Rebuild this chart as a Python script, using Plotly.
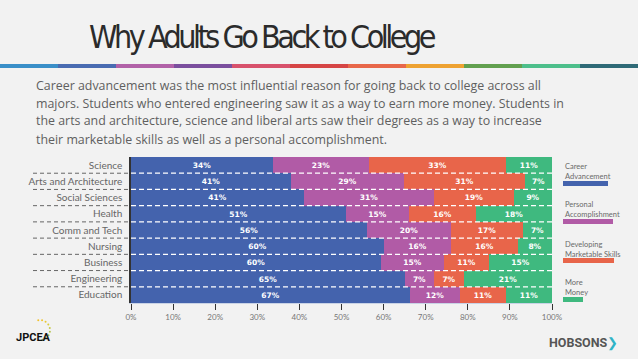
import math
import plotly.graph_objects as go

categories = ["Science", "Arts and Architecture", "Social Sciences", "Health", "Comm and Tech",
              "Nursing", "Business", "Engineering", "Education"]
career = [34, 41, 41, 51, 56, 60, 60, 65, 67]
personal = [23, 29, 31, 15, 20, 16, 15, 7, 12]
skills = [33, 31, 19, 16, 17, 16, 11, 7, 11]
money = [11, 7, 9, 18, 7, 8, 15, 21, 11]
series_names = ["Career Advancement", "Personal Accomplishment", "Developing Marketable Skills", "More Money"]
legend_lines = ["Career<br>Advancement", "Personal<br>Accomplishment", "Developing<br>Marketable Skills", "More<br>Money"]
colors = ["#4463ad", "#b15ba6", "#e8654a", "#3fb97f"]
tick_vals = [0, 10, 20, 30, 40, 50, 60, 70, 80, 90, 100]
tick_text = [f"{v}%" for v in tick_vals]
title_text = "Why Adults Go Back to College"
paragraph = [
    "Career advancement was the most influential reason for going back to college across all",
    "majors. Students who entered engineering saw it as a way to earn more money. Students in",
    "the arts and architecture, science and liberal arts saw their degrees as a way to increase",
    "their marketable skills as well as a personal accomplishment.",
]

W, H = 638, 359
L, R, T, B = 131, 86, 157, 56
PW, PH = W - L - R, H - T - B


def px(x):
    return (x - L) / PW


def py(y):
    return (H - B - y) / PH


fig = go.Figure()
for name, vals, col in zip(series_names, [career, personal, skills, money], colors):
    fig.add_trace(go.Bar(
        y=categories, x=vals, name=name, orientation="h",
        marker=dict(color=col, line=dict(width=0)),
        text=[f"<b>{v}%</b>" for v in vals], texttemplate="%{text}",
        textposition="inside", insidetextanchor="middle",
        textfont=dict(color="white", size=7.5, family="DejaVu Sans"),
        showlegend=False, hoverinfo="skip",
    ))

shapes = []
# colour stripe under the title
stripe = ["#3a8fc8", "#4a6cb2", "#b262a8", "#7b4f9e", "#d8526c", "#d64545",
          "#e8674a", "#eea232", "#62a04f", "#4dbf8b", "#2f6a77"]
sw = W / len(stripe)
for i, c in enumerate(stripe):
    shapes.append(dict(type="rect", xref="paper", yref="paper",
                       x0=px(i * sw), x1=px((i + 1) * sw), y0=py(68), y1=py(64),
                       fillcolor=c, line=dict(width=0), layer="above"))
# dashed separators between rows
for i in range(len(categories) - 1):
    yb = i + 0.5
    shapes.append(dict(type="line", xref="paper", yref="y", x0=px(33), x1=0, y0=yb, y1=yb,
                       line=dict(color="#666666", width=1, dash="4px,3px"), layer="above"))
    shapes.append(dict(type="line", xref="paper", yref="y", x0=0, x1=1, y0=yb, y1=yb,
                       line=dict(color="white", width=1.2, dash="5px,3px"), layer="above"))
# legend swatches
sw_pos = [(181, 608), (219, 613), (258, 614), (297, 583)]
for (yt, xr), c in zip(sw_pos, colors):
    shapes.append(dict(type="rect", xref="paper", yref="paper",
                       x0=px(563), x1=px(xr), y0=py(yt + 5), y1=py(yt),
                       fillcolor=c, line=dict(width=0)))
# JPCEA logo dotted arc
arc_cols = ["#f2c12e", "#f0c530", "#e9c935", "#d9cb3c", "#c6c944", "#b3c24c", "#a2ba52", "#94b257", "#8aa95b"]
for k, c in enumerate(arc_cols):
    a = math.radians(100 - k * 22)
    cx, cy = 40 + 10 * math.cos(a), 330 - 10 * math.sin(a)
    r = 1.0
    shapes.append(dict(type="circle", xref="paper", yref="paper",
                       x0=px(cx - r), x1=px(cx + r), y0=py(cy + r), y1=py(cy - r),
                       fillcolor=c, line=dict(width=0)))

annotations = [
    dict(text=f"<span style='letter-spacing:-3.5px'>{title_text}</span>", x=px(262), y=py(37),
         xref="paper", yref="paper", showarrow=False, xanchor="center", yanchor="middle",
         font=dict(family="DejaVu Sans Condensed, Liberation Sans Narrow, sans-serif",
                   size=32, color="#2b2b2b")),
    dict(text="<b>JPCEA</b>", x=px(14), y=py(337), xref="paper", yref="paper", showarrow=False,
         xanchor="left", yanchor="middle", font=dict(family="Roboto, sans-serif", size=11, color="#111111")),
    dict(text="<b>HOBSONS</b><span style='color:#2fb3c6'>❯</span>", x=px(620), y=py(343),
         xref="paper", yref="paper", showarrow=False, xanchor="right", yanchor="middle",
         font=dict(family="Roboto, sans-serif", size=12.5, color="#555555")),
]
for k, line in enumerate(paragraph):
    annotations.append(dict(text=line, x=px(34), y=py(85 + 18 * k), xref="paper", yref="paper",
                            showarrow=False, xanchor="left", yanchor="middle", align="left",
                            font=dict(family="Open Sans, sans-serif", size=12.4, color="#5f5f5f")))
leg_y = [171, 209, 249, 287]
for txt, yy in zip(legend_lines, leg_y):
    annotations.append(dict(text=txt, x=px(563), y=py(yy), xref="paper", yref="paper",
                            showarrow=False, xanchor="left", yanchor="middle", align="left",
                            font=dict(family="Lato, sans-serif", size=7.5, color="#6a6a6a")))

fig.update_layout(
    barmode="stack", barnorm="percent", bargap=0,
    width=W, height=H,
    margin=dict(l=L, r=R, t=T, b=B, pad=0),
    paper_bgcolor="#f2f2f2", plot_bgcolor="#f2f2f2",
    shapes=shapes, annotations=annotations,
    xaxis=dict(range=[0, 100], tickvals=tick_vals, ticktext=tick_text, showgrid=False,
               zeroline=False, ticks="outside", ticklen=6, tickcolor="#333333", tickwidth=1,
               showline=True, linecolor="#c9d3e6", linewidth=1, fixedrange=True,
               tickfont=dict(family="Lato, sans-serif", size=8, color="#777777")),
    yaxis=dict(autorange="reversed", showgrid=False, zeroline=False, showline=True,
               linecolor="#333333", linewidth=1.5, ticks="", ticklabelstandoff=5, fixedrange=True,
               tickfont=dict(family="Lato, sans-serif", size=10, color="#666666")),
    font=dict(family="Lato, sans-serif"),
    hovermode=False,
)

fig.write_html("out.html", config={"displayModeBar": False},
               post_script="document.body.style.margin='0';document.body.style.background='#f2f2f2';")
